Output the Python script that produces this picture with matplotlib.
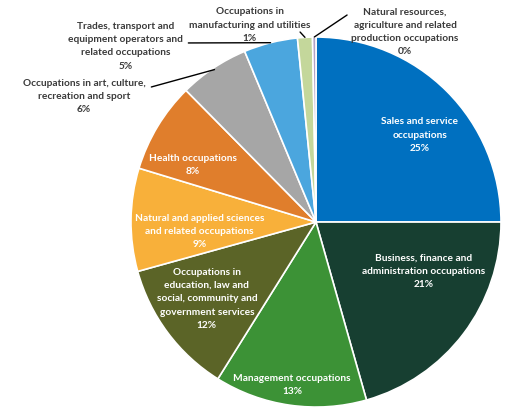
import matplotlib
matplotlib.use("Agg")
import numpy as np
import matplotlib.pyplot as plt

# Share of employment by broad occupation group
occupations = [
    "Sales and service\noccupations",
    "Business, finance and\nadministration occupations",
    "Management occupations",
    "Occupations in\neducation, law and\nsocial, community and\ngovernment services",
    "Natural and applied sciences\nand related occupations",
    "Health occupations",
    "Occupations in art, culture,\nrecreation and sport",
    "Trades, transport and\nequipment operators and\nrelated occupations",
    "Occupations in\nmanufacturing and utilities",
    "Natural resources,\nagriculture and related\nproduction occupations",
]
shares = [25.0, 20.6, 13.3, 11.8, 9.0, 7.9, 6.1, 4.7, 1.3, 0.3]
colors = ["#0070C0", "#173F31", "#3C9236", "#5B6427", "#F8B03A",
          "#E07E2C", "#A6A6A6", "#4BA6DE", "#C4D79B", "#B3A2C7"]

# label placement (pie units, centre at 0,0, radius 1)
inside_pos = [(0.56, 0.47), (0.58, -0.265), (-0.13, -0.88), (-0.59, -0.415),
              (-0.63, -0.05), (-0.665, 0.31)]
outside_pos = {6: (-1.254, 0.68), 7: (-1.03, 0.95), 8: (-0.357, 1.065), 9: (0.481, 1.027)}
leader_start = {6: (-0.89, 0.73), 7: (-0.69, 0.968), 8: (-0.086, 1.027), 9: (0.168, 1.119)}
leader_r = {6: 0.99, 7: 1.0, 8: 1.0, 9: 1.0}

plt.rcParams["font.family"] = ["Lato", "DejaVu Sans"]

fig = plt.figure(figsize=(5.06, 4.08), dpi=100)
ax = fig.add_axes([0, 0, 1, 1])
wedges, _ = ax.pie(shares, colors=colors, startangle=90, counterclock=False,
                   radius=1, wedgeprops=dict(edgecolor="white", linewidth=1.2))
ax.set_xlim(-1.708, 1.027)
ax.set_ylim(-1.005, 1.2)
ax.set_aspect("equal")
ax.axis("off")

for i, (name, val) in enumerate(zip(occupations, shares)):
    label = f"{name}\n{val:.0f}%"
    if i < len(inside_pos):
        x, y = inside_pos[i]
        ax.text(x, y, label, ha="center", va="center", color="white",
                fontsize=7.3, fontweight="bold", linespacing=1.6)
    else:
        x, y = outside_pos[i]
        ax.text(x, y, label, ha="center", va="center", color="#3A3A3A",
                fontsize=7.3, fontweight="bold", linespacing=1.6)
        w = wedges[i]
        mid = np.deg2rad((w.theta1 + w.theta2) / 2)
        r = leader_r[i]
        ax.annotate("", xy=(r * np.cos(mid), r * np.sin(mid)), xytext=leader_start[i],
                    arrowprops=dict(arrowstyle="-", color="black", lw=1.0,
                                    shrinkA=0, shrinkB=0))

fig.savefig("out.png", dpi=100)
